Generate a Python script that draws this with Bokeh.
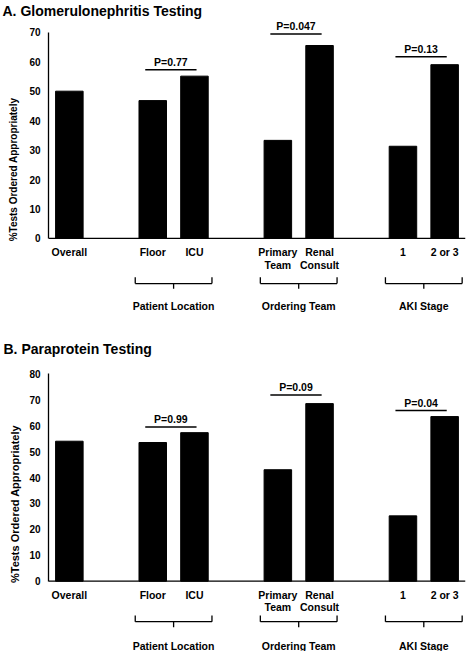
from bokeh.plotting import figure
from bokeh.models import LinearAxis, FixedTicker, Range1d, Span
from bokeh.layouts import column
from bokeh.embed import file_html
from bokeh.resources import INLINE
from bokeh.core.properties import value

# ---------------- data ----------------
categories = ["Overall", "Floor", "ICU", "Primary\nTeam", "Renal\nConsult", "1", "2 or 3"]
groups = ["Patient Location", "Ordering Team", "AKI Stage"]
group_sizes = [1, 2, 2, 2]          # Overall alone, then three compared pairs

gn_title = "A. Glomerulonephritis Testing"
gn_values = [50.0, 46.8, 55.1, 33.3, 65.5, 31.3, 59.0]
gn_pvalues = ["P=0.77", "P=0.047", "P=0.13"]
gn_pline = [57.3, 69.4, 61.7]
gn_ticks = [0, 10, 20, 30, 40, 50, 60, 70]

pp_title = "B. Paraprotein Testing"
pp_values = [54.0, 53.5, 57.3, 43.0, 68.5, 25.2, 63.5]
pp_pvalues = ["P=0.99", "P=0.09", "P=0.04"]
pp_pline = [59.5, 71.8, 65.8]
pp_ticks = [0, 10, 20, 30, 40, 50, 60, 70, 80]

y_label = "%Tests Ordered Appropriately"
FONT = "Liberation Sans"

# slot positions: groups separated by an empty slot
xs = []
pos = 0
for g in group_sizes:
    for k in range(g):
        xs.append(pos + k)
    pos += g + 1
pairs = []
i = 1
for g in group_sizes[1:]:
    pairs.append((i, i + g - 1))
    i += g


def panel(title, values, pvalues, plines, ticks, W, H, left, right, top,
          zero_px, top_tick_px, label_px, label_center_px, label_standoff,
          lab_off, line2_off, brace_off, group_off, x_end, title_x):
    # zero_px / top_tick_px: pixel rows (from figure top) of value 0 and of the top tick
    ppu = (zero_px - top_tick_px) / (ticks[-1] - ticks[0])
    y_end = (zero_px - top) / ppu
    y_start = -(H - zero_px) / ppu
    p = figure(width=W, height=H, output_backend="svg", toolbar_location=None,
               x_axis_location=None, min_border_left=left, min_border_right=right,
               min_border_top=top, min_border_bottom=0,
               x_range=Range1d(-0.5, x_end), y_range=Range1d(y_start, y_end))
    p.outline_line_color = None
    p.grid.visible = False
    p.background_fill_color = "white"
    p.border_fill_color = "white"

    def d(pxv):
        return pxv / ppu

    # title
    p.title.text = title
    p.title.text_font = FONT
    p.title.text_font_size = "14px"
    p.title.text_font_style = "bold"
    p.title.text_color = "black"
    p.title.align = "left"
    p.title.offset = title_x - left
    p.title.standoff = 0

    # bars
    p.vbar(x=xs, top=values, bottom=0, width=0.66, fill_color="black", line_color="black")

    # x axis line
    p.add_layout(Span(location=0, dimension="width", line_color="black", line_width=1.3))

    # y axis (ticks)
    ya = p.yaxis[0]
    ya.ticker = FixedTicker(ticks=ticks)
    ya.bounds = (ticks[0], ticks[-1])
    ya.major_tick_line_color = None
    ya.minor_tick_line_color = None
    ya.major_tick_out = 0
    ya.major_tick_in = 0
    ya.minor_tick_out = 0
    ya.minor_tick_in = 0
    ya.axis_label_standoff = 0
    ya.major_label_standoff = 8
    ya.major_label_text_font = FONT
    ya.major_label_text_font_style = "bold"
    ya.major_label_text_font_size = "10px"
    ya.major_label_text_color = "black"
    ya.axis_line_color = "black"
    ya.axis_line_width = 1.3

    # y axis title on its own axis so its centre can be placed
    c = (zero_px - label_center_px) / ppu
    la = LinearAxis(ticker=FixedTicker(ticks=[]), bounds=(c - 1, c + 1),
                    axis_line_color=None, major_tick_line_color=None,
                    minor_tick_line_color=None, major_tick_out=0, major_tick_in=0,
                    minor_tick_out=0, minor_tick_in=0, major_label_standoff=0,
                    axis_label=y_label,
                    axis_label_text_font=FONT, axis_label_text_font_style="bold",
                    axis_label_text_font_size=label_px,
                    axis_label_standoff=label_standoff,
                    axis_label_text_color="black")
    p.add_layout(la, "left")

    # category labels (multi-line split)
    tx, ty, tt = [], [], []
    for x, cat in zip(xs, categories):
        for j, line in enumerate(cat.split("\n")):
            tx.append(x)
            ty.append(-d(lab_off + j * line2_off))
            tt.append(line)
    p.text(x=tx, y=ty, text=tt, text_align="center", text_baseline="middle",
           text_font=value(FONT), text_font_style="bold", text_font_size="10.5px",
           text_color="black")

    # braces and group labels
    x0s, y0s, x1s, y1s = [], [], [], []
    gx = []
    for (a, b) in pairs:
        xl, xr = xs[a] - 0.42, xs[b] + 0.42
        xc = (xs[a] + xs[b]) / 2
        yt, yh, yk = -d(brace_off[0]), -d(brace_off[1]), -d(brace_off[2])
        x0s += [xl, xl, xr, xc]
        y0s += [yt, yh, yt, yh]
        x1s += [xl, xr, xr, xc]
        y1s += [yh, yh, yh, yk]
        gx.append(xc)
    p.segment(x0=x0s, y0=y0s, x1=x1s, y1=y1s, line_color="black", line_width=1.3)
    p.text(x=gx, y=[-d(group_off)] * len(gx), text=groups, text_align="center",
           text_baseline="middle", text_font=value(FONT), text_font_style="bold",
           text_font_size="10.5px", text_color="black")

    # p-value lines
    lx0, lx1, lxc, ly, lty = [], [], [], [], []
    for (a, b), yl in zip(pairs, plines):
        lx0.append(xs[a] - 0.18)
        lx1.append(xs[b] + 0.05)
        lxc.append((xs[a] - 0.18 + xs[b] + 0.05) / 2)
        ly.append(yl)
        lty.append(yl + d(8))
    p.segment(x0=lx0, y0=ly, x1=lx1, y1=ly, line_color="black", line_width=1.5)
    p.text(x=lxc, y=lty, text=pvalues, text_align="center", text_baseline="middle",
           text_font=value(FONT), text_font_style="bold", text_font_size="10.5px",
           text_color="black")
    return p


p1 = panel(gn_title, gn_values, gn_pvalues, gn_pline, gn_ticks, W=471, H=320,
           left=48, right=0, top=17, zero_px=237.7, top_tick_px=30.8,
           label_px="10px", label_center_px=116.7, label_standoff=8,
           lab_off=13.8, line2_off=12.6, brace_off=(39.0, 45.3, 50.5), group_off=67.5,
           x_end=9.5, title_x=2)
p2 = panel(pp_title, pp_values, pp_pvalues, pp_pline, pp_ticks, W=471, H=331,
           left=47, right=6, top=36, zero_px=260.7, top_tick_px=53.3,
           label_px="11px", label_center_px=152.7, label_standoff=6,
           lab_off=13.3, line2_off=12.6, brace_off=(34.3, 40.5, 46.0), group_off=64.3,
           x_end=9.5, title_x=2)

layout = column(p1, p2, spacing=0)
open("out.html", "w").write(file_html(layout, INLINE))
